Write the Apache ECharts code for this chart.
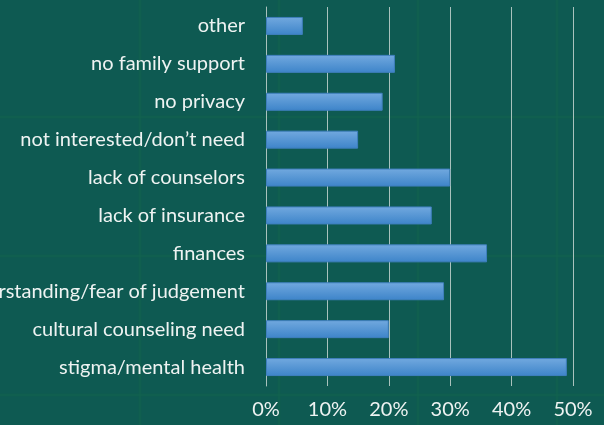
<!DOCTYPE html>
<html><head><meta charset="utf-8">
<script src="https://cdn.jsdelivr.net/npm/echarts@6/dist/echarts.min.js"></script>
<style>html,body{margin:0;padding:0;background:#0e5a52;}#c{width:604px;height:425px;}</style>
</head><body><div id="c"></div>
<script>
const categories = ["stigma/mental health","cultural counseling need","misunderstanding/fear of judgement","finances","lack of insurance","lack of counselors","not interested/don\u2019t need","no privacy","no family support","other"];
const values = [49, 20, 29, 36, 27, 30, 15, 19, 21, 6];
const tickLabels = ["0%","10%","20%","30%","40%","50%"];

// faint background slide grid (decoration)
const bgLines = [];
[140, 279, 418, 557].forEach(x => bgLines.push({type:'rect', z:-10, silent:true, shape:{x:x-1.5, y:0, width:3, height:425}, style:{fill:'#13624f', opacity:0.6}}));
[117, 256, 395].forEach(y => bgLines.push({type:'rect', z:-10, silent:true, shape:{x:0, y:y-1.5, width:604, height:3}, style:{fill:'#13624f', opacity:0.6}}));

const chart = echarts.init(document.getElementById('c'));
chart.setOption({
  backgroundColor: '#0e5a52',
  animation: false,
  graphic: bgLines,
  grid: {left: 266, right: 31, top: 7, bottom: 39, containLabel: false, outerBoundsMode: 'none'},
  xAxis: {
    type: 'value', min: 0, max: 50, interval: 10,
    axisLine: {show: false}, axisTick: {show: false},
    splitLine: {show: true, lineStyle: {color: '#a9c2bd', width: 1}},
    axisLabel: {color: '#eef3f2', fontFamily: 'Lato', fontSize: 20, margin: 14,
      formatter: v => tickLabels[Math.round(v/10)]}
  },
  yAxis: {
    type: 'category', data: categories,
    axisLine: {show: true, lineStyle: {color: '#a9c2bd', width: 1}},
    axisTick: {show: false},
    axisLabel: {color: '#eef3f2', fontFamily: 'Lato', fontSize: 20, margin: 21}
  },
  series: [{
    type: 'bar', data: values, barWidth: 18,
    itemStyle: {
      borderColor: '#3f7fbd', borderWidth: 1,
      color: new echarts.graphic.LinearGradient(0,0,0,1,[{offset:0,color:'#72a9df'},{offset:1,color:'#3d84c9'}])
    }
  }]
});
</script></body></html>
